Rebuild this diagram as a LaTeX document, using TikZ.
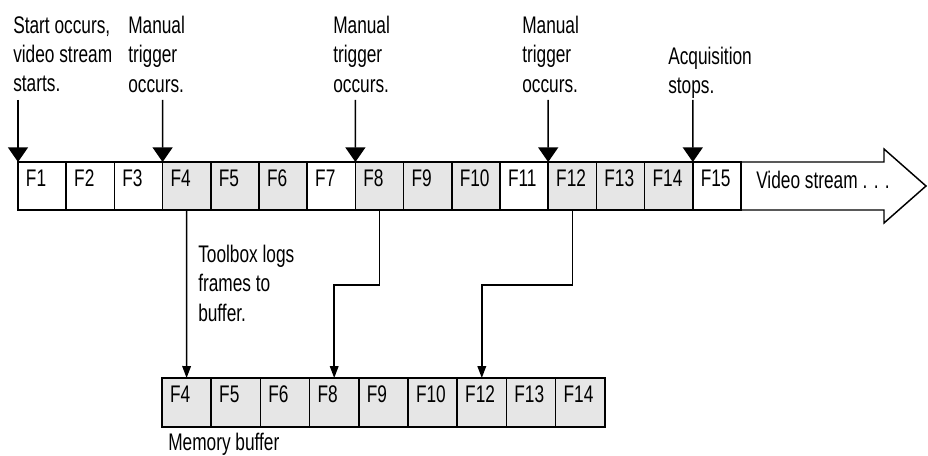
\documentclass[tikz,border=0pt]{standalone}
\usepackage{fontspec}
\setmainfont{Liberation Sans}[FakeStretch=0.72]
\usetikzlibrary{arrows.meta}
\definecolor{loggray}{RGB}{230,230,230}
\tikzset{
  frmcell/.style={draw, line width=1.1pt, inner xsep=6pt, inner ysep=0pt, outer sep=0pt,
    minimum height=36pt, text width=24.15pt, align=left, text height=12.5pt, text depth=12.5pt,
    anchor=north west, font=\fontsize{18}{22}\selectfont},
  bufcell/.style={frmcell, text width=24.9pt, minimum height=36.75pt, fill=loggray},
  note/.style={inner sep=0pt, align=left, anchor=north west, font=\fontsize{18}{22}\selectfont},
  trig/.style={line width=1.1pt, -{Triangle[width=15pt,length=11pt]}},
  logarr/.style={line width=1.1pt, -{Triangle[width=6.5pt,length=9pt]}}
}
\begin{document}
\begin{tikzpicture}[x=0.75pt,y=0.75pt,yscale=-1,xscale=1]
\useasboundingbox (0,0) rectangle (928,456);

%Shape: Arrow (video stream)
\draw [line width=1.1pt] (18,162) -- (884,162) -- (884,149) -- (926,186) -- (884,223) -- (884,210) -- (18,210) -- cycle ;

%Frames of the stream
\foreach \i/\c in {1/white,2/white,3/white,4/loggray,5/loggray,6/loggray,7/white,8/loggray,
  9/loggray,10/loggray,11/white,12/loggray,13/loggray,14/loggray,15/white}
  \node [frmcell, fill=\c] (f\i) at ({18+(\i-1)*48.2},162) {F\i};
\node [note, anchor=base west] (vstream) at (756,189) {Video stream . . .};

%Memory buffer
\foreach \f [count=\k from 0] in {4,5,6,8,9,10,12,13,14}
  \node [bufcell] (b\f) at ({162+\k*49.2},378) {F\f};
\node [note] (membuf) at (168,433) {Memory buffer};

%Text labels
\node [note] (start) at (13,16) {Start occurs,\\video stream\\starts.};
\node [note] (manual1) at (128,16) {Manual\\trigger\\occurs.};
\node [note] (manual2) at (333,16) {Manual\\trigger\\occurs.};
\node [note] (manual3) at (522,16) {Manual\\trigger\\occurs.};
\node [note] (acqstop) at (668,47) {Acquisition\\stops.};
\node [note] (toolbox) at (198,245) {Toolbox logs\\frames to\\buffer.};

%Trigger arrows
\coordinate (t1) at (18,100);
\coordinate (t4) at (162.6,100);
\coordinate (t8) at (355.4,100);
\coordinate (t12) at (548.2,100);
\coordinate (t15) at (692.8,100);
\draw [trig] (t1) -- (f1.north west);
\draw [trig] (t4) -- (f4.north west);
\draw [trig] (t8) -- (f8.north west);
\draw [trig] (t12) -- (f12.north west);
\draw [trig] (t15) -- (f15.north west);

%Logging arrows
\draw [logarr] (f4.south) -- (b4.north);
\draw [logarr] (f8.south) -- ++(0,75) -| (b8.north);
\draw [logarr] (f12.south) -- ++(0,75) -| (b12.north);

\end{tikzpicture}
\end{document}
